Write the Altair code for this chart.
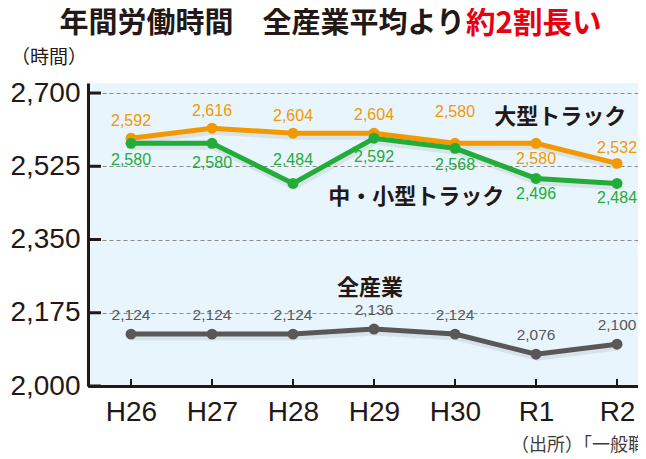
import altair as alt
import pandas as pd

# ---- data ----
CATEGORIES = ["H26", "H27", "H28", "H29", "H30", "R1", "R2"]
LARGE = [2592, 2616, 2604, 2604, 2580, 2580, 2532]
SMALL_MEDIUM = [2580, 2580, 2484, 2592, 2568, 2496, 2484]
ALL_INDUSTRY = [2124, 2124, 2124, 2136, 2124, 2076, 2100]
Y_TICKS = [2000, 2175, 2350, 2525, 2700]

SERIES = ["大型トラック", "中・小型トラック", "全産業"]
SERIES_VALUES = [LARGE, SMALL_MEDIUM, ALL_INDUSTRY]

# label placement (pixel offsets of value labels)
LABEL_DY = [
    [-17, -17, -17, -18, -31, 16, -15],
    [17, 20, -23, 19, 17, 16, 15],
    [-19, -19, -19, -19, -19, -19, -19],
]
# series name annotations (data coordinates)
NAME_X = [5.30, 3.52, 2.95]
NAME_Y = [2643, 2452, 2234]

TITLE_MAIN = "年間労働時間　全産業平均より"
TITLE_RED = "約2割長い"
Y_UNIT = "（時間）"
SOURCE = "（出所）「一般職業紹介状況」（厚生労働省）"

COLORS = ["#f39800", "#22ac38", "#595757"]
LABEL_COLORS = ["#f39800", "#22ac38", "#595757"]
LABEL_SIZES = [16, 16, 15.5]
DARK = "#231815"
NUM_FONT = "Liberation Sans Narrow, Liberation Sans, sans-serif"
NUM_FONT2 = "Liberation Sans, sans-serif"
JP_FONT = "Noto Sans CJK JP"

rows = []
for s, vals, dys in zip(SERIES, SERIES_VALUES, LABEL_DY):
    for i, (c, v, d) in enumerate(zip(CATEGORIES, vals, dys)):
        rows.append({"cat": c, "i": i, "series": s, "value": v, "dy": d,
                     "label": f"{v:,}"})
df = pd.DataFrame(rows)

names_df = pd.DataFrame({"name": SERIES, "i": NAME_X, "value": NAME_Y})
ticks_df = pd.DataFrame({"value": Y_TICKS})
cats_df = pd.DataFrame({"i": list(range(len(CATEGORIES)))})

label_expr = "[" + ",".join(f"'{c}'" for c in CATEGORIES) + "][datum.value]"

xscale = alt.Scale(domain=[-0.531, 6.259], nice=False, zero=False)
yscale = alt.Scale(domain=[2000, 2724], nice=False, zero=False)

X_AXIS = alt.Axis(
    values=list(range(len(CATEGORIES))), labelExpr=label_expr, title=None,
    grid=False, ticks=False, domainColor=DARK, domainWidth=3,
    labelFont=NUM_FONT, labelFontSize=28, labelColor=DARK, labelPadding=12,
    labelFlush=False, labelOverlap=False)
Y_AXIS = alt.Axis(
    values=Y_TICKS, format=",d", title=None, grid=True, gridColor="#8a8a8a",
    gridDash=[4, 3], gridWidth=1, ticks=False, domainColor=DARK, domainWidth=3,
    labelFont=NUM_FONT, labelFontSize=28, labelColor=DARK, labelPadding=8,
    labelOverlap=False, labelFlush=False)
X = alt.X("i:Q", scale=xscale, axis=X_AXIS, title=None)
Y = alt.Y("value:Q", scale=yscale, axis=Y_AXIS, title=None)

base = alt.Chart(df).encode(x=X, y=Y)

shadow = base.mark_line(color="#000000", opacity=0.07, strokeWidth=7,
                        yOffset=3, xOffset=1).encode(detail="series:N")

lines = []
points = []
labels = []
for s, col, lcol, lsz in zip(SERIES, COLORS, LABEL_COLORS, LABEL_SIZES):
    sub = base.transform_filter(alt.datum.series == s)
    lines.append(sub.mark_line(strokeWidth=5, color=col))
    points.append(sub.mark_circle(size=120, opacity=1, color=col))
    dys = sorted(set(df.loc[df.series == s, "dy"]))
    for d in dys:
        labels.append(
            base.transform_filter((alt.datum.series == s) & (alt.datum.dy == d))
            .mark_text(baseline="middle", align="center", font=NUM_FONT2,
                       fontSize=lsz, color=lcol, dy=int(d))
            .encode(text="label:N"))

names = alt.Chart(names_df).mark_text(
    font=JP_FONT, fontSize=22, fontWeight="bold", color=DARK,
    baseline="middle", align="center").encode(x=X, y=Y, text="name:N")

yticks = alt.Chart(ticks_df).mark_rule(color=DARK, strokeWidth=3).encode(
    y=Y, x=alt.value(0), x2=alt.value(13))
xticks = alt.Chart(cats_df).mark_rule(color=DARK, strokeWidth=2).encode(
    x=X, y=alt.value(303), y2=alt.value(296))

title1 = alt.Chart(pd.DataFrame({"t": [TITLE_MAIN]})).mark_text(
    font=JP_FONT, fontSize=29, fontWeight="bold", color=DARK,
    align="right", baseline="middle").encode(
    x=alt.value(377), y=alt.value(-59), text="t:N")
title2 = alt.Chart(pd.DataFrame({"t": [TITLE_RED]})).mark_text(
    font=JP_FONT, fontSize=29.5, fontWeight="bold", color="#e60012",
    align="left", baseline="middle").encode(
    x=alt.value(378), y=alt.value(-59), text="t:N")
unit = alt.Chart(pd.DataFrame({"t": [Y_UNIT]})).mark_text(
    font=JP_FONT, fontSize=19, color=DARK, align="left", baseline="middle").encode(
    x=alt.value(-77), y=alt.value(-25), text="t:N")
source = alt.Chart(pd.DataFrame({"t": [SOURCE]})).mark_text(
    font=JP_FONT, fontSize=18, color="#3e3a39", align="left", baseline="middle").encode(
    x=alt.value(423), y=alt.value(363), text="t:N")

chart = alt.layer(
    shadow, *lines, *points, yticks, xticks, *labels, names,
    title1, title2, unit, source
).properties(
    width=550, height=303,
    padding={"left": 80, "top": 75, "right": 0, "bottom": 73},
    autosize=alt.AutoSizeParams(type="none"),
    background="white",
).configure_view(fill="#e8f5fd", strokeWidth=0)

chart.save("out.html", embed_options={"renderer": "svg", "actions": False})
